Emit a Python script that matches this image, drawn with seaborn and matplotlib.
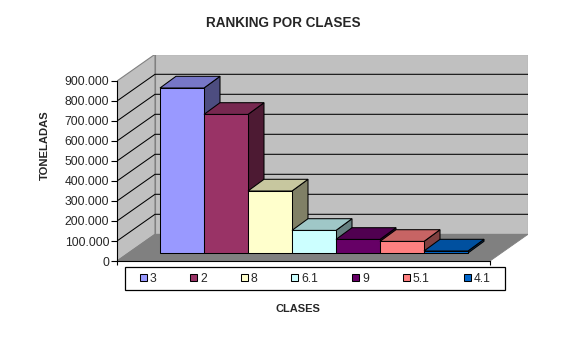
# 3D-looking column chart (Excel style) drawn with seaborn + a few polygons
import numpy as np
import matplotlib.pyplot as plt
import seaborn as sns
from matplotlib.patches import Polygon, Patch, Rectangle

# -------------------------------------------------------------------
# data
# -------------------------------------------------------------------
clases = ["3", "2", "8", "6.1", "9", "5.1", "4.1"]
toneladas = [825000, 693000, 310000, 113000, 68000, 58000, 10000]
colores = ["#9999FF", "#993366", "#FFFFCC", "#CCFFFF", "#660066", "#FF8080", "#0066CC"]
y_ticks = [0, 100000, 200000, 300000, 400000, 500000, 600000, 700000, 800000, 900000]

# -------------------------------------------------------------------
# layout (pixels of the 567x353 picture)
# -------------------------------------------------------------------
W, H = 567, 353
L, R, T, B = 117, 528, 54.7, 261      # box of the 3D plot area
px_x = 1 / 44                         # data units per pixel (x)
px_y = 5000                           # data units per pixel (y)
x0 = -0.5 - (160 - L) * px_x
x1 = x0 + (R - L) * px_x
y0 = -8 * px_y                        # front floor sits below the bar base
y1 = y0 + (B - T) * px_y
xf_r = x0 + (490 - L) * px_x          # front right corner of floor
ddx, ddy = 38 * px_x, 26.7 * px_y     # depth of the box
bdx, bdy = 16 * px_x, 11.7 * px_y     # depth of a bar
top_v = y_ticks[-1]


def shade(c, f):
    r, g, b = plt.matplotlib.colors.to_rgb(c)
    return (r * f, g * f, b * f)


def fmt(v):
    return f"{v:,}".replace(",", ".")


sns.set_style("ticks")
plt.rcParams['font.family'] = ['Liberation Sans', 'DejaVu Sans']

fig = plt.figure(figsize=(W / 100, H / 100), dpi=100)
fig.patch.set_facecolor("white")
ax = fig.add_axes([L / W, 1 - B / H, (R - L) / W, (B - T) / H])
ax.set_facecolor("none")

# walls and floor
floor = Polygon([(x0, y0), (xf_r, y0), (xf_r + ddx, y0 + ddy), (x0 + ddx, y0 + ddy)],
                closed=True, facecolor="#808080", edgecolor="#808080", lw=0.6, zorder=0)
back = Polygon([(x0 + ddx, y0 + ddy), (x1, y0 + ddy), (x1, y0 + ddy + top_v), (x0 + ddx, y0 + ddy + top_v)],
               closed=True, facecolor="#C0C0C0", edgecolor="#808080", lw=0.8, zorder=0)
left = Polygon([(x0, y0), (x0 + ddx, y0 + ddy), (x0 + ddx, y0 + ddy + top_v), (x0, y0 + top_v)],
               closed=True, facecolor="#C0C0C0", edgecolor="#808080", lw=0.8, zorder=0)
for p in [back, left, floor]:
    ax.add_patch(p)
for v in y_ticks[1:-1]:
    ax.plot([x0, x0 + ddx, x1], [y0 + v, y0 + ddy + v, y0 + ddy + v], color="black", lw=0.75, zorder=1)

# bars
sns.barplot(x=clases, y=toneladas, hue=clases, hue_order=clases, order=clases, palette=colores,
            saturation=1, width=1, dodge=False, edgecolor="black", linewidth=0.75, legend=False, ax=ax)
for p, c in zip(ax.patches[3:], colores):
    x, w, h = p.get_x(), p.get_width(), p.get_height()
    p.set_zorder(3)
    top = Polygon([(x, h), (x + w, h), (x + w + bdx, h + bdy), (x + bdx, h + bdy)],
                  closed=True, facecolor=shade(c, 0.78), edgecolor="black", lw=0.75, zorder=3)
    side = Polygon([(x + w, 0), (x + w + bdx, bdy), (x + w + bdx, h + bdy), (x + w, h)],
                   closed=True, facecolor=shade(c, 0.5), edgecolor="black", lw=0.75, zorder=2)
    ax.add_patch(top)
    ax.add_patch(side)

ax.set_xlim(x0, x1)
ax.set_ylim(y0, y1)
ax.set_yticks([v + y0 for v in y_ticks])
ax.set_yticklabels([fmt(v) for v in y_ticks])
ax.set_xticks([x0, xf_r])
ax.set_xticklabels(["", ""])
ax.tick_params(axis="y", length=4, width=0.8, color="black", labelsize=8.7, pad=1.5, left=True)
ax.tick_params(axis="x", length=3, width=0.8, color="black", bottom=True)
ax.set_xlabel("")
ax.set_ylabel("")
for s in ["top", "right"]:
    ax.spines[s].set_visible(False)
ax.spines["left"].set_bounds(y0, y0 + top_v)
ax.spines["bottom"].set_bounds(x0, xf_r)
for s in ["left", "bottom"]:
    ax.spines[s].set_color("black")
    ax.spines[s].set_linewidth(0.8)
    ax.spines[s].set_zorder(4)

# legend: entries centred in a plain box
box = (125, 267.3, 505, 290)
fig.add_artist(Rectangle((box[0] / W, 1 - box[3] / H), (box[2] - box[0]) / W, (box[3] - box[1]) / H,
                         transform=fig.transFigure, fill=False, edgecolor="black", lw=0.9))
handles = [Patch(facecolor=c, edgecolor="black", lw=0.75, label=l) for l, c in zip(clases, colores)]
leg = fig.legend(handles=handles, loc="center", ncol=7,
                 bbox_to_anchor=((box[0] + box[2]) / 2 / W, 1 - (box[1] + box[3]) / 2 / H),
                 frameon=False, fontsize=8.7, handlelength=0.58, handleheight=0.58,
                 handletextpad=0.25, columnspacing=2.8, borderpad=0, borderaxespad=0)

# texts
fig.text(283.5 / W, 1 - 23 / H, "RANKING POR CLASES", ha="center", va="center", fontsize=9.75, weight="bold")
fig.text(45 / W, 1 - 145 / H, "TONELADAS", ha="center", va="center", rotation=90, fontsize=8.1, weight="bold")
fig.text(298 / W, 1 - 309 / H, "CLASES", ha="center", va="center", fontsize=8, weight="bold")

fig.savefig("out.png", dpi=100)
